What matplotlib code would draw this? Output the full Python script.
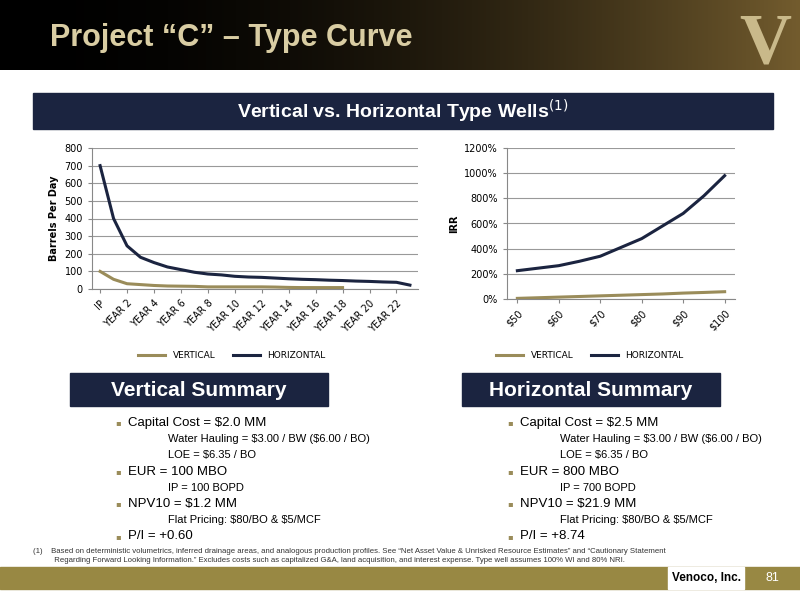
import matplotlib

matplotlib.use("Agg")
import matplotlib.pyplot as plt
import numpy as np
from matplotlib.patches import Rectangle

# --- data ---
prod_labels = ["IP"] + [f"YEAR {i}" for i in range(1, 24)]
horizontal_bpd = [700, 400, 245, 180, 150, 125, 110, 95, 85, 80, 72, 68, 66, 62,
                  58, 55, 53, 50, 48, 45, 43, 40, 38, 22]
vertical_bpd = [100, 55, 30, 25, 20, 17, 16, 15, 12, 12, 12, 12, 12, 11,
                9, 8, 8, 8, 8]

price_labels = ["$50", "$55", "$60", "$65", "$70", "$75", "$80", "$85", "$90", "$95", "$100"]
horizontal_irr = [225, 245, 265, 300, 340, 410, 480, 580, 680, 820, 980]
vertical_irr = [5, 10, 15, 20, 25, 30, 35, 40, 47, 52, 58]

vert_summary = [
    ("Capital Cost = $2.0 MM", 0), ("Water Hauling = $3.00 / BW ($6.00 / BO)", 1),
    ("LOE = $6.35 / BO", 1), ("EUR = 100 MBO", 0), ("IP = 100 BOPD", 1),
    ("NPV10 = $1.2 MM", 0), ("Flat Pricing: $80/BO & $5/MCF", 1), ("P/I = +0.60", 0),
]
horiz_summary = [
    ("Capital Cost = $2.5 MM", 0), ("Water Hauling = $3.00 / BW ($6.00 / BO)", 1),
    ("LOE = $6.35 / BO", 1), ("EUR = 800 MBO", 0), ("IP = 700 BOPD", 1),
    ("NPV10 = $21.9 MM", 0), ("Flat Pricing: $80/BO & $5/MCF", 1), ("P/I = +8.74", 0),
]

NAVY = "#1b2440"
TAN = "#9a8c5a"
GOLD = "#988843"
W, H = 800, 600


def box(x0, y0, x1, y1):
    return [x0 / W, 1 - y1 / H, (x1 - x0) / W, (y1 - y0) / H]


fig = plt.figure(figsize=(8, 6), dpi=100)
bg = fig.add_axes([0, 0, 1, 1])
bg.set_xlim(0, W)
bg.set_ylim(H, 0)
bg.axis("off")

# header band: black fading into brown texture on the right
grad = np.linspace(0, 1, 400) ** 2
header = np.zeros((1, 400, 3))
header[0, :, 0] = 0.45 * grad
header[0, :, 1] = 0.36 * grad
header[0, :, 2] = 0.18 * grad
bg.imshow(header, extent=(0, W, 70, 0), aspect="auto", zorder=0)
bg.text(50, 38, "Project \u201cC\u201d \u2013 Type Curve", color="#d9cda3",
        fontsize=22, fontweight="bold", va="center", family="Liberation Sans")
bg.text(765, 45, "V", color="#c9b98a", fontsize=52, fontweight="bold",
        ha="center", va="center", family="Liberation Serif")

bg.add_patch(Rectangle((33, 93), 740, 36, color=NAVY))
bg.text(403, 111, r"Vertical vs. Horizontal Type Wells$^{(1)}$", color="white",
        fontsize=14, fontweight="bold", ha="center", va="center",
        family="Liberation Sans")

# summaries
for x0, title, items in [(70, "Vertical Summary", vert_summary),
                         (462, "Horizontal Summary", horiz_summary)]:
    bg.add_patch(Rectangle((x0, 373), 258, 33, color=NAVY))
    bg.text(x0 + 129, 390, title, color="white", fontsize=15, fontweight="bold",
            ha="center", va="center", family="Liberation Sans")
    y = 423
    for txt, lvl in items:
        if lvl == 0:
            bg.text(x0 + 45, y, "\u25aa", color=TAN, fontsize=6, va="center")
            bg.text(x0 + 58, y, txt, fontsize=9.5, va="center",
                    family="Liberation Sans", parse_math=False)
        else:
            bg.text(x0 + 98, y, txt, fontsize=8, va="center",
                    family="Liberation Sans", parse_math=False)
        y += 16.2

bg.text(33, 556, "(1)    Based on deterministic volumetrics, inferred drainage areas, and analogous "
        "production profiles. See \u201cNet Asset Value & Unrisked Resource Estimates\u201d and "
        "\u201cCautionary Statement\n          Regarding Forward Looking Information.\u201d Excludes "
        "costs such as capitalized G&A, land acquisition, and interest expense. Type well "
        "assumes 100% WI and 80% NRI.", fontsize=5.6, va="center", family="Liberation Sans",
        color="#333333", linespacing=1.4, parse_math=False)

bg.add_patch(Rectangle((0, 567), W, 22, color=GOLD))
bg.add_patch(Rectangle((668, 567), 76, 22, color="white"))
bg.text(706, 578, "Venoco, Inc.", fontsize=8.5, fontweight="bold", ha="center",
        va="center", family="Liberation Sans")
bg.text(772, 578, "81", fontsize=9, color="white", ha="center", va="center",
        family="Liberation Sans")

# production chart
ax1 = fig.add_axes(box(92, 148, 418, 289))
x1 = np.arange(len(prod_labels))
ax1.plot(x1, horizontal_bpd, color=NAVY, lw=2.2, label="HORIZONTAL", zorder=3)
ax1.plot(x1[:len(vertical_bpd)], vertical_bpd, color=TAN, lw=2.2, label="VERTICAL", zorder=3)
ax1.set_xlim(-0.6, len(prod_labels) - 0.4)
ax1.set_ylim(0, 800)
ax1.set_yticks(range(0, 801, 100))
ax1.set_xticks(x1[::2])
ax1.set_xticklabels(prod_labels[::2], rotation=45, ha="right", rotation_mode="anchor")
ax1.set_ylabel("Barrels Per Day", fontsize=7, fontweight="bold")

# IRR chart
ax2 = fig.add_axes(box(507, 148, 735, 299))
x2 = np.arange(len(price_labels))
ax2.plot(x2, horizontal_irr, color=NAVY, lw=2.2, label="HORIZONTAL", zorder=3)
ax2.plot(x2, vertical_irr, color=TAN, lw=2.2, label="VERTICAL", zorder=3)
ax2.set_xlim(-0.5, len(price_labels) - 0.5)
ax2.set_ylim(0, 1200)
ax2.set_yticks(range(0, 1201, 200))
ax2.set_yticklabels([f"{v}%" for v in range(0, 1201, 200)])
ax2.set_xticks(x2[::2])
ax2.set_xticklabels(price_labels[::2], rotation=45, ha="right", rotation_mode="anchor")
ax2.set_ylabel("IRR", fontsize=7, fontweight="bold")

for ax, cx in ((ax1, 232), (ax2, 590)):
    ax.grid(axis="y", color="#999999", lw=0.8)
    ax.set_axisbelow(True)
    for s in ("top", "right"):
        ax.spines[s].set_visible(False)
    for s in ("left", "bottom"):
        ax.spines[s].set_color("#888888")
    ax.tick_params(labelsize=7, length=3, color="#888888")
    h, l = ax.get_legend_handles_labels()
    ax.legend(h[::-1], l[::-1], loc="center", bbox_to_anchor=(cx / W, 1 - 356 / H),
              bbox_transform=fig.transFigure, ncol=2, frameon=False,
              fontsize=6.5, handlelength=3)

fig.savefig("out.png", dpi=100)
